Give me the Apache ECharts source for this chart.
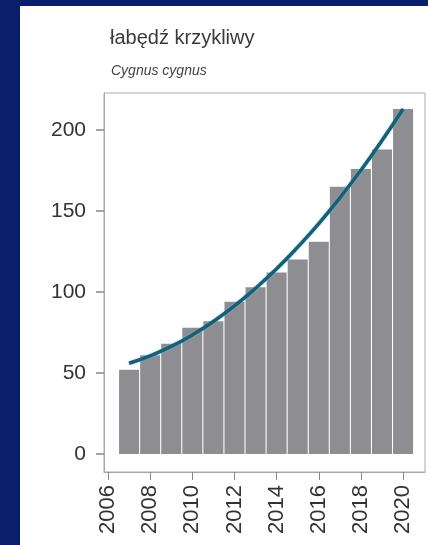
<!DOCTYPE html>
<html>
<head>
<meta charset="utf-8">
<script src="https://cdn.jsdelivr.net/npm/echarts@6/dist/echarts.min.js"></script>
<style>
  html, body { margin: 0; padding: 0; width: 428px; height: 545px; overflow: hidden; background: #0b1d6b; }
  #panel { position: absolute; left: 20px; top: 6px; width: 408px; height: 539px; background: #ffffff; }
</style>
</head>
<body>
<div id="panel"></div>
<script>
const titleText = "łabędź krzykliwy";
const subtitleText = "Cygnus cygnus";
const years = [2007, 2008, 2009, 2010, 2011, 2012, 2013, 2014, 2015, 2016, 2017, 2018, 2019, 2020];
const counts = [52, 61, 68, 78, 82, 94, 103, 112, 120, 131, 165, 176, 188, 213];
const trend = [56, 60.6, 66.4, 73.5, 81.8, 91.4, 102.3, 114.3, 127.7, 142.2, 158.1, 175.2, 193.5, 213];
const xTicks = [2006, 2008, 2010, 2012, 2014, 2016, 2018, 2020];
const yTicks = [0, 50, 100, 150, 200];

const chart = echarts.init(document.getElementById('panel'), null, { renderer: 'canvas' });
const font = 'Liberation Sans, Arial, Helvetica, sans-serif';
const frameGray = '#a8a8a8';
const tickGray = '#888888';

chart.setOption({
  animation: false,
  backgroundColor: '#ffffff',
  title: [
    { text: titleText, left: 85, top: 17, textStyle: { fontFamily: font, fontSize: 20, fontWeight: 'normal', color: '#3a3a3a' } },
    { text: subtitleText, left: 86, top: 53, textStyle: { fontFamily: font, fontSize: 14, fontStyle: 'italic', fontWeight: 'normal', color: '#444444' } }
  ],
  grid: { left: 84, top: 87, width: 321, height: 379, show: true, borderColor: frameGray, borderWidth: 1, backgroundColor: 'transparent' },
  xAxis: {
    type: 'value', min: 2005.81, max: 2021.04, position: 'bottom',
    axisLine: { show: true, onZero: false, lineStyle: { color: frameGray, width: 1 } },
    splitLine: { show: false },
    axisTick: { show: true, customValues: xTicks, length: 8, lineStyle: { color: tickGray, width: 1 } },
    axisLabel: { customValues: xTicks, rotate: 90, margin: 13, fontFamily: font, fontSize: 22, color: '#333333', formatter: v => String(v) }
  },
  yAxis: {
    type: 'value', min: -11.111, max: 222.84, position: 'left', z: 10,
    axisLine: { show: true, onZero: false, lineStyle: { color: frameGray, width: 1 } },
    splitLine: { show: false },
    axisTick: { show: true, inside: false, customValues: yTicks, length: 8, lineStyle: { color: tickGray, width: 1.5 } },
    axisLabel: { customValues: yTicks, margin: 18, fontFamily: font, fontSize: 21, color: '#333333' }
  },
  series: [
    {
      type: 'bar',
      data: years.map((y, i) => [y, counts[i]]),
      barWidth: 20,
      itemStyle: { color: '#8e8e92' },
      z: 2
    },
    {
      type: 'line',
      data: years.map((y, i) => [y, trend[i]]),
      smooth: true,
      symbol: 'none',
      lineStyle: { color: '#1a5d76', width: 3.5, shadowColor: 'rgba(90,200,230,0.8)', shadowBlur: 2 },
      z: 3
    }
  ]
});
</script>
</body>
</html>
